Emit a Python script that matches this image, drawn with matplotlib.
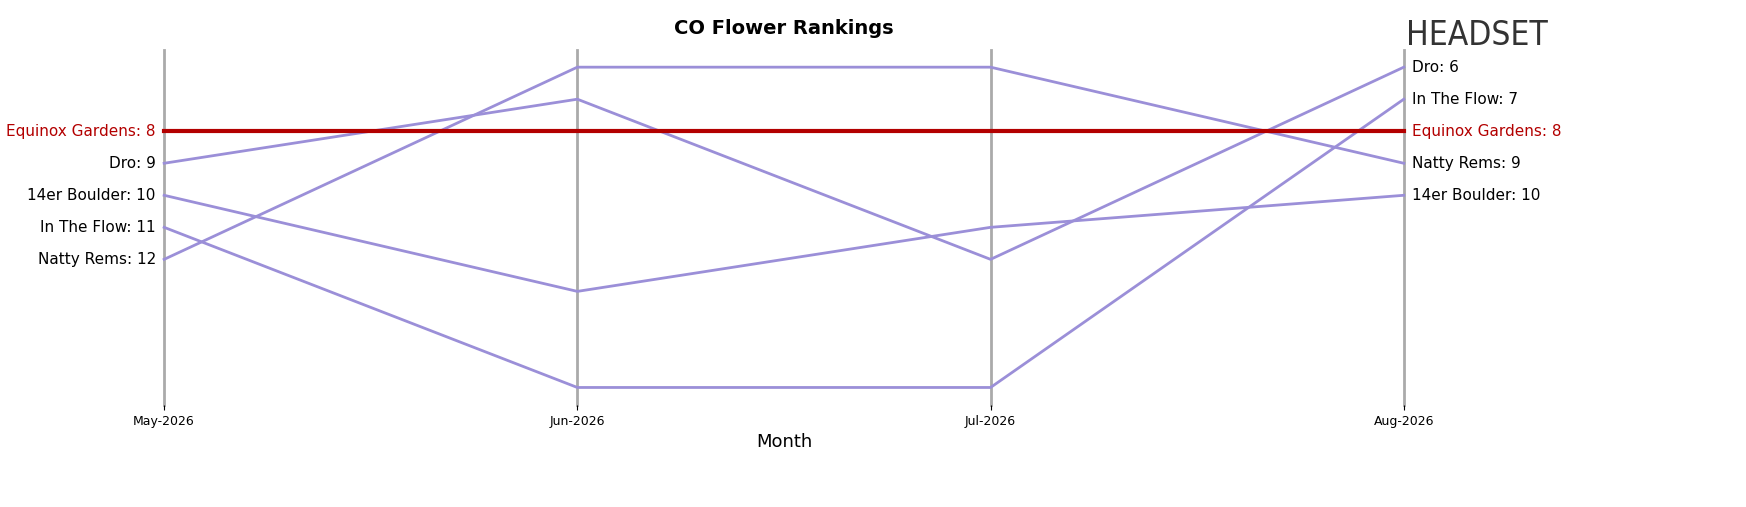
import matplotlib.pyplot as plt

months = ['May-2026', 'Jun-2026', 'Jul-2026', 'Aug-2026']
brands = ['Equinox Gardens', 'Dro', '14er Boulder', 'In The Flow', 'Natty Rems']
ranks = {
    'Equinox Gardens': [8, 8, 8, 8],
    'Dro': [9, 7, 12, 6],
    '14er Boulder': [10, 13, 11, 10],
    'In The Flow': [11, 16, 16, 7],
    'Natty Rems': [12, 6, 6, 9],
}
highlight = 'Equinox Gardens'

fig = plt.figure(figsize=(17.46, 5.07), dpi=100)
ax = fig.add_axes([0.094, 0.201, 0.71, 0.70])
x = list(range(len(months)))

for xi in x:
    ax.axvline(xi, color='#aaaaaa', lw=2, zorder=1, clip_on=False)

for b in brands:
    r = ranks[b]
    if b == highlight:
        ax.plot(x, r, color='#b30000', lw=3, zorder=3, clip_on=False)
    else:
        ax.plot(x, r, color='#9b8fd8', lw=2, zorder=2, clip_on=False)

ax.set_ylim(16.55, 5.47)
ax.set_xlim(0, 3)
ax.set_yticks([])
ax.set_xticks(x)
ax.set_xticklabels(months)
ax.tick_params(axis='x', labelsize=9)
for s in ax.spines.values():
    s.set_visible(False)
ax.set_xlabel('Month', fontsize=13)
ax.set_title('CO Flower Rankings', fontsize=14, fontweight='bold', pad=12)

for b in brands:
    c = '#b30000' if b == highlight else 'black'
    ax.text(-0.02, ranks[b][0], f'{b}: {ranks[b][0]}', ha='right', va='center', fontsize=11, color=c)
    ax.text(3.02, ranks[b][-1], f'{b}: {ranks[b][-1]}', ha='left', va='center', fontsize=11, color=c)

fig.text(0.805, 0.93, 'HEADSET', fontsize=24, color='#333333', ha='left', va='center', fontstretch='condensed')
fig.savefig('out.png', dpi=100)
